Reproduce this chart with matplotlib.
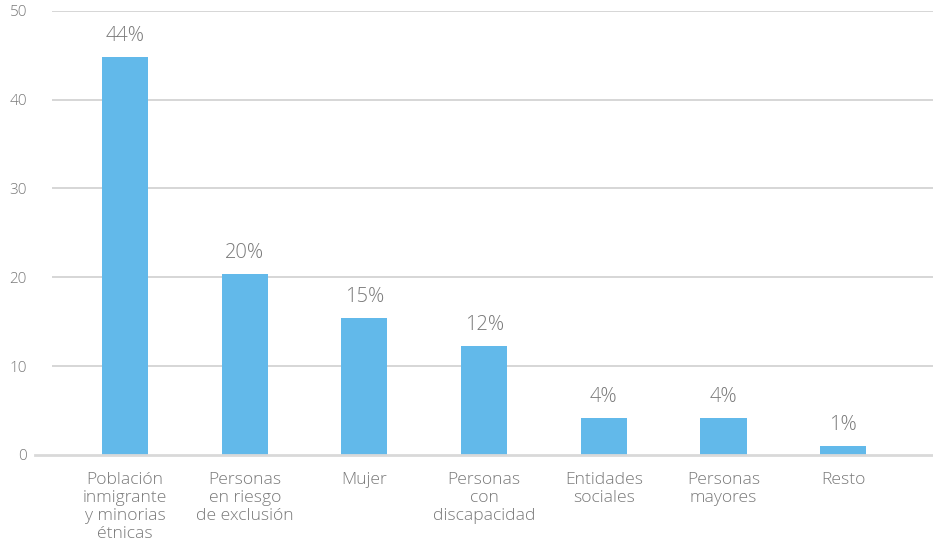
import matplotlib.pyplot as plt

categories = ['Población\ninmigrante\ny minorias\nétnicas', 'Personas\nen riesgo\nde exclusión', 'Mujer',
              'Personas\ncon\ndiscapacidad', 'Entidades\nsociales', 'Personas\nmayores', 'Resto']
values = [44.8, 20.4, 15.4, 12.3, 4.2, 4.2, 1.05]
labels = ['44%', '20%', '15%', '12%', '4%', '4%', '1%']
yticks = [0, 10, 20, 30, 40, 50]

plt.rcParams['font.family'] = ['Open Sans', 'DejaVu Sans']
plt.rcParams['font.weight'] = 'light'
grey = '#7a7a7a'

fig = plt.figure(figsize=(9.33, 5.46), dpi=100)
ax = fig.add_axes([52 / 933, 1 - 455 / 546, 1 - 52 / 933, (455 - 10.7) / 546])

x = range(len(values))
bars = ax.bar(x, values, width=0.385, color='#62b9ea', zorder=3)

# value labels above bars
for b, lab in zip(bars, labels):
    ax.annotate(lab, (b.get_x() + b.get_width() / 2, b.get_height()),
                xytext=(0, 8), textcoords='offset points',
                ha='center', va='bottom', fontsize=14.5, color=grey)

ax.set_xlim(-0.61, 6.75)
ax.set_ylim(0, 50)
ax.set_yticks(yticks)
ax.set_xticks(list(x))
ax.set_xticklabels(categories, fontsize=12.6, color=grey, linespacing=1.17, va='top')
ax.tick_params(axis='both', length=0)
ax.tick_params(axis='x', pad=12)
ax.tick_params(axis='y', pad=18, labelsize=11, labelcolor=grey)

for s in ax.spines.values():
    s.set_visible(False)

# gridlines
for v in yticks[1:]:
    ax.axhline(v, color='#cccccc', lw=1.1, zorder=1)
# zero line reaches a bit further left than the grid
ax.axhline(0, xmin=-17 / 881, xmax=1, color='#d9d9d9', lw=2, zorder=4, clip_on=False)

fig.savefig('out.png', dpi=100)
